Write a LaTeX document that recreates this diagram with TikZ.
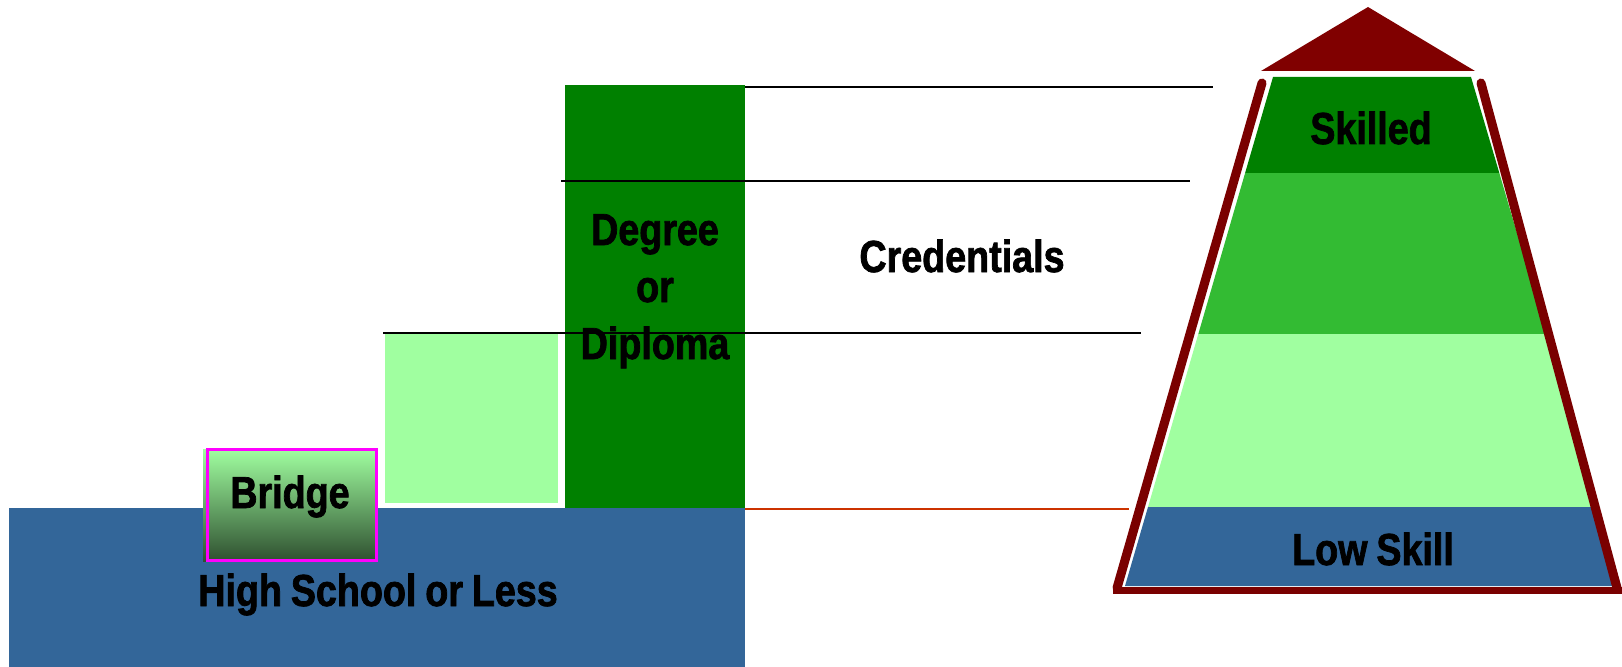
\documentclass[tikz,border=0pt]{standalone}
\usepackage{fontspec}
\setmainfont{Liberation Sans}[FakeStretch=0.84, WordSpace=0.85, BoldFeatures={FakeBold=1.6}]
\definecolor{baseblue}{HTML}{336699}
\definecolor{dkgreen}{HTML}{008000}
\definecolor{mdgreen}{HTML}{33BB33}
\definecolor{ltgreen}{HTML}{A0FFA0}
\definecolor{roofred}{HTML}{800000}
\definecolor{rimred}{HTML}{7A0000}
\definecolor{bridgetop}{HTML}{A0FFA0}
\definecolor{bridgebot}{HTML}{2F5030}
\definecolor{baserule}{HTML}{CC3300}
\definecolor{bridgeedge}{HTML}{FF00FF}
\begin{document}
\begin{tikzpicture}[x=1bp,y=-1bp,
  lbl/.style={font=\bfseries\fontsize{45}{57}\selectfont, inner sep=0, anchor=base, text=black},
  rulek/.style={draw=black, line width=1.7bp},
  rim/.style={draw=rimred, line width=9bp, line cap=round}]
\useasboundingbox (0,0) rectangle (1622,667);

% left staircase
\fill[baseblue] (9,508) rectangle (745,667);
\fill[dkgreen] (565,85) rectangle (745,508);
\fill[ltgreen] (385,333) rectangle (558,503);
\shade[top color=bridgetop, bottom color=bridgebot] (203,449) rectangle (376,561);
\draw[bridgeedge, line width=3bp] (207.5,449.5) rectangle (376.5,560.5);

% pyramid
\fill[dkgreen] (1273,77) -- (1471,77) -- (1499.3,173) -- (1245.1,173) -- cycle;
\fill[mdgreen] (1245.1,173) -- (1499.3,173) -- (1546.7,334) -- (1198.3,334) -- cycle;
\fill[ltgreen] (1198.3,334) -- (1546.7,334) -- (1597.7,507) -- (1148,507) -- cycle;
\fill[baseblue] (1148,507) -- (1597.7,507) -- (1621,586) -- (1125,586) -- cycle;
\fill[roofred] (1368,7) -- (1475,71) -- (1261,71) -- cycle;
\draw[rim] (1262,83) -- (1117,588);
\draw[rim] (1481,83) -- (1617,588);
\draw[draw=rimred, line width=7.5bp] (1113,590.5) -- (1622,590.5);

% level lines
\coordinate (c1a) at (745,87);  \coordinate (c1b) at (1213,87);
\coordinate (c2a) at (561,181); \coordinate (c2b) at (1190,181);
\coordinate (c3a) at (383,333); \coordinate (c3b) at (1141,333);
\coordinate (c4a) at (745,509); \coordinate (c4b) at (1129,509);
\draw[rulek] (c1a) -- (c1b);
\draw[rulek] (c2a) -- (c2b);
\draw[rulek] (c3a) -- (c3b);
\draw[draw=baserule, line width=1.6bp] (c4a) -- (c4b);

% labels
\node[lbl] (skilled) at (1371,144) {Skilled};
\node[lbl] (lowskill) at (1373,565) {Low Skill};
\node[lbl] (bridge) at (290,508) {Bridge};
\node[lbl] (hs) at (378,606) {High School or Less};
\node[lbl] (cred) at (962,272) {Credentials};
\node[lbl] (deg1) at (655,245) {Degree};
\node[lbl] (deg2) at (655,302) {or};
\node[lbl] (deg3) at (655,359) {Diploma};
\end{tikzpicture}
\end{document}
